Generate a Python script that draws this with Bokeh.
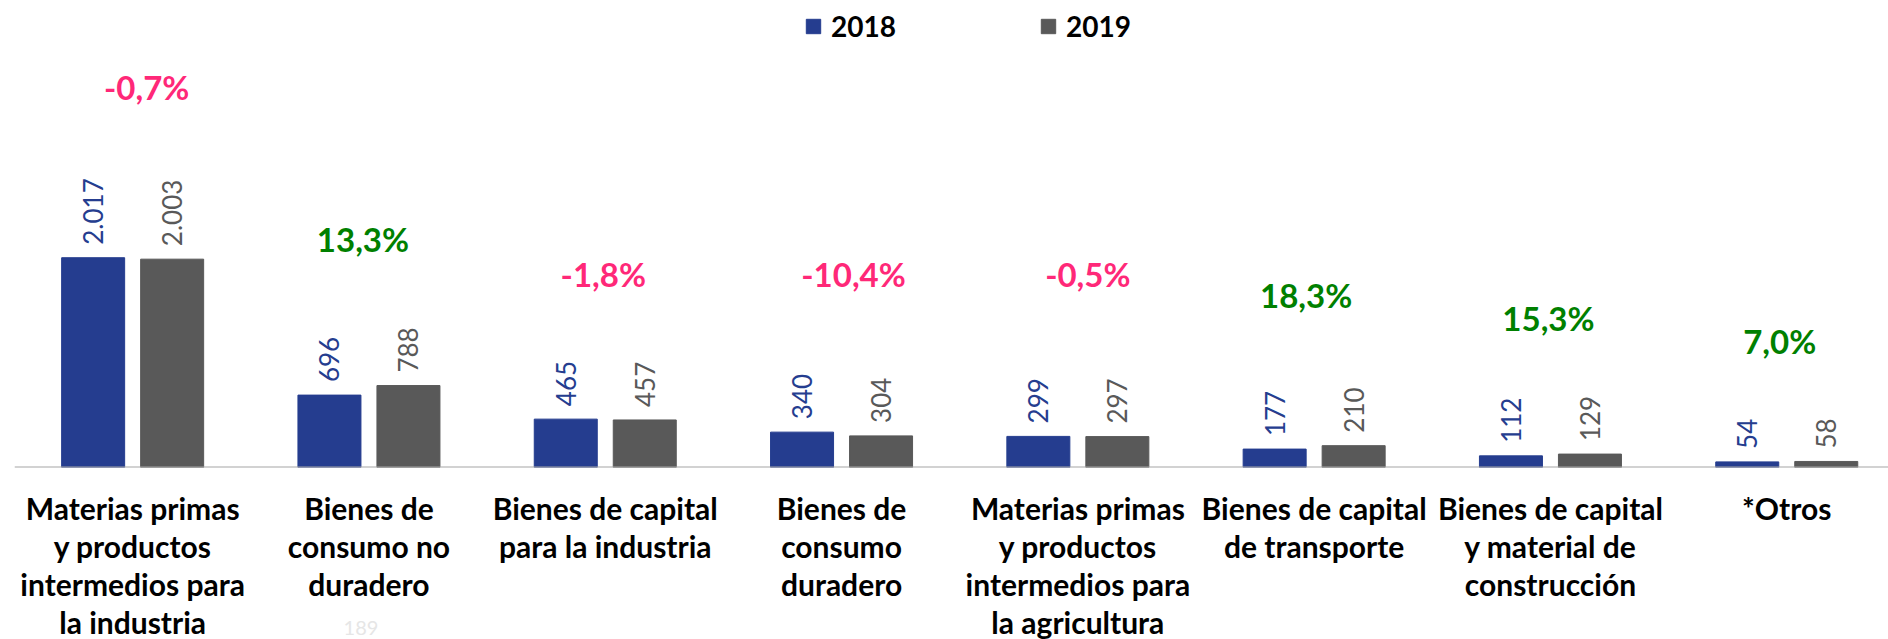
from bokeh.plotting import figure
from bokeh.models import (ColumnDataSource, Range1d, Legend, LegendItem, Span)
from bokeh.layouts import column
from bokeh.core.properties import value
from bokeh.embed import file_html
from bokeh.resources import INLINE
import math

categories = [
    "Materias primas\ny productos\nintermedios para\nla industria",
    "Bienes de\nconsumo no\nduradero",
    "Bienes de capital\npara la industria",
    "Bienes de\nconsumo\nduradero",
    "Materias primas\ny productos\nintermedios para\nla agricultura",
    "Bienes de capital\nde transporte",
    "Bienes de capital\ny material de\nconstrucción",
    "*Otros",
]
values_2018 = [2017, 696, 465, 340, 299, 177, 112, 54]
values_2019 = [2003, 788, 457, 304, 297, 210, 129, 58]
labels_2018 = ["2.017", "696", "465", "340", "299", "177", "112", "54"]
labels_2019 = ["2.003", "788", "457", "304", "297", "210", "129", "58"]
pct_labels = ["-0,7%", "13,3%", "-1,8%", "-10,4%", "-0,5%", "18,3%", "15,3%", "7,0%"]
pct_label_y = [3660, 2200, 1860, 1860, 1860, 1655, 1435, 1215]
pct_dx = [14, -6, -2, 12, 10, -8, -2, -7]

BLUE = "#253D8F"
GRAY = "#595959"
PINK = "#FF2878"
GREEN = "#008000"
FONT = "Lato"

n = len(categories)
xs = list(range(n))
bw = 63 / 236.3
gap = 16 / 236.3
off = (bw + gap) / 2

W = 1888
H1, H2 = 470, 169
xr = Range1d(-0.5, -0.5 + 1874 / 236.3)

p = figure(width=W, height=H1, output_backend="svg", toolbar_location=None,
           x_range=xr, y_range=Range1d(0, 4413),
           min_border_left=14, min_border_right=0, min_border_top=8, min_border_bottom=3)
p.outline_line_color = None
p.grid.visible = False
p.axis.visible = False
p.background_fill_color = "white"
p.border_fill_color = "white"

src = ColumnDataSource(dict(
    x1=[x - off for x in xs], x2=[x + off for x in xs],
    v1=values_2018, v2=values_2019, l1=labels_2018, l2=labels_2019,
    xp=xs, yp=pct_label_y, pl=pct_labels, dx=pct_dx,
    pc=[PINK if s.startswith("-") else GREEN for s in pct_labels],
))

r1 = p.vbar(x="x1", top="v1", width=bw, source=src, fill_color=BLUE, line_color=BLUE)
r2 = p.vbar(x="x2", top="v2", width=bw, source=src, fill_color=GRAY, line_color=GRAY)

p.text(x="x1", y="v1", text="l1", source=src, angle=math.pi / 2, y_offset=-13,
       text_align="left", text_baseline="middle", text_color=BLUE,
       text_font=value(FONT), text_font_size="26px")
p.text(x="x2", y="v2", text="l2", source=src, angle=math.pi / 2, y_offset=-13,
       text_align="left", text_baseline="middle", text_color=GRAY,
       text_font=value(FONT), text_font_size="26px")
p.text(x="xp", y="yp", text="pl", source=src, x_offset="dx",
       text_align="center", text_baseline="middle", text_color="pc",
       text_font=value(FONT), text_font_style="bold", text_font_size="33px")

p.add_layout(Span(location=0, dimension="width", line_color="#A6A6A6", line_width=2))

legend = Legend(items=[LegendItem(label="2018", renderers=[r1]),
                       LegendItem(label="2019", renderers=[r2])],
                orientation="horizontal", location=(790, 424),
                glyph_width=18, glyph_height=18, label_standoff=9, label_width=208,
                label_height=34, spacing=0, padding=0, margin=0,
                label_text_font=FONT, label_text_font_style="bold",
                label_text_font_size="28px", label_text_color="black",
                border_line_alpha=0, background_fill_alpha=0)
p.add_layout(legend, "center")

# category label panel, sharing the x scale
p2 = figure(width=W, height=H2, output_backend="svg", toolbar_location=None,
            x_range=xr, y_range=Range1d(0, 1),
            min_border_left=14, min_border_right=0, min_border_top=0, min_border_bottom=0)
p2.outline_line_color = None
p2.grid.visible = False
p2.axis.visible = False
src2 = ColumnDataSource(dict(x=xs, y=[1] * n, t=categories))
p2.text(x="x", y="y", text="t", source=src2, y_offset=19,
        text_align="center", text_baseline="top", text_color="black",
        text_font=value(FONT), text_font_style="bold", text_font_size="30px",
        text_line_height=1.06)
p2.text(x=[1], y=[1], text=["189"], x_offset=-8, y_offset=157,
        text_align="center", text_baseline="middle", text_color="#E6E6E6",
        text_font=value(FONT), text_font_size="20px")

layout = column(p, p2, spacing=0)
open("out.html", "w").write(file_html(layout, INLINE))
